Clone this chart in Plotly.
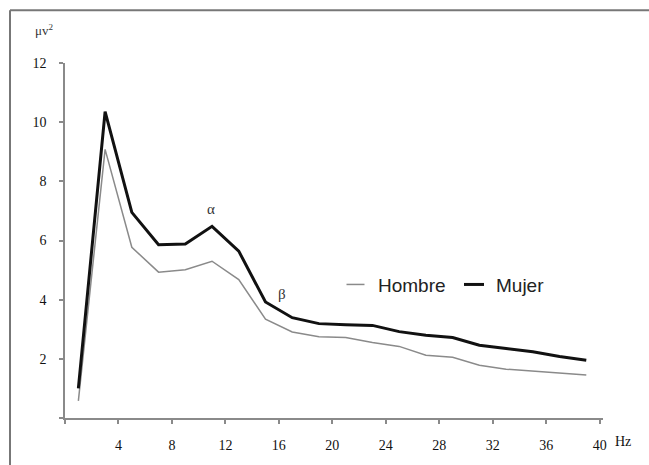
import plotly.graph_objects as go

freq = [1, 3, 5, 7, 9, 11, 13, 15, 17, 19, 21, 23, 25, 27, 29, 31, 33, 35, 37, 39]
hombre = [0.58, 9.08, 5.77, 4.93, 5.01, 5.30, 4.68, 3.34, 2.91, 2.75, 2.72, 2.55, 2.42, 2.12, 2.05, 1.78, 1.65, 1.58, 1.50, 1.45]
mujer = [1.00, 10.36, 6.95, 5.86, 5.88, 6.48, 5.64, 3.92, 3.39, 3.19, 3.15, 3.13, 2.92, 2.80, 2.72, 2.46, 2.35, 2.24, 2.08, 1.95]
x_ticks = [4, 8, 12, 16, 20, 24, 28, 32, 36, 40]
x_labels = ["4", "8", "12", "16", "20", "24", "28", "32", "36", "40"]
y_ticks = [2, 4, 6, 8, 10, 12]
y_labels = ["2", "4", "6", "8", "10", "12"]
series_names = ["Hombre", "Mujer"]
series_colors = ["#8a8a8a", "#111111"]
series_widths = [1.5, 3]

serif = "Liberation Serif, Times New Roman, serif"
sans = "Liberation Sans, Arial, sans-serif"

fig = go.Figure()
for name, vals, col, w in zip(series_names, [hombre, mujer], series_colors, series_widths):
    fig.add_trace(go.Scatter(x=freq, y=vals, mode="lines", name=name,
                             line=dict(color=col, width=w), showlegend=False))

axis_common = dict(showgrid=False, zeroline=False, showline=True, linecolor="#8a8a8a",
                   linewidth=1.5, ticks="outside", ticklen=4, tickcolor="#8a8a8a", tickwidth=1.5,
                   tickfont=dict(family=serif, size=14, color="#111"),
                   minor=dict(tickvals=[0], ticks="outside", ticklen=4, tickcolor="#8a8a8a",
                              tickwidth=1.5, showgrid=False))

fig.update_xaxes(range=[0, 40.25], tickvals=x_ticks, ticktext=x_labels, ticklabelstandoff=9, **axis_common)
fig.update_yaxes(range=[0, 12], tickvals=y_ticks, ticktext=y_labels, ticklabelstandoff=10, **axis_common)

# plot area geometry (for paper-coordinate legend / labels)
L, R, T, B, W, H = 65, 46, 63, 45, 649, 465
pw, ph = W - L - R, H - T - B
def px(xp):
    return (xp - L) / pw
def py(yp):
    return (H - B - yp) / ph

# manual legend (short line samples like the reference)
legend_items = [(346.5, 364.5, 375.5), (464, 484, 494)]
shapes = []
annotations = []
for (x0, x1, tx), name, col, w in zip(legend_items, series_names, series_colors, series_widths):
    shapes.append(dict(type="line", xref="paper", yref="paper", x0=px(x0), x1=px(x1),
                       y0=py(285.7), y1=py(285.7), line=dict(color=col, width=w)))
    annotations.append(dict(x=px(tx), y=py(287), xref="paper", yref="paper", text=name,
                            showarrow=False, xanchor="left", yanchor="middle",
                            font=dict(family=sans, size=19, color="#222")))

# outer frame (top and left edges)
shapes.append(dict(type="line", xref="paper", yref="paper", x0=px(10), x1=px(660),
                   y0=py(10), y1=py(10), line=dict(color="#777", width=2)))
shapes.append(dict(type="line", xref="paper", yref="paper", x0=px(10), x1=px(10),
                   y0=py(10), y1=py(470), line=dict(color="#777", width=2)))

annotations += [
    dict(x=10.9, y=7.06, xref="x", yref="y", text="α", showarrow=False,
         xanchor="center", yanchor="middle", font=dict(family=serif, size=15, color="#333")),
    dict(x=16.2, y=4.2, xref="x", yref="y", text="β", showarrow=False,
         xanchor="center", yanchor="middle", font=dict(family=serif, size=15, color="#333")),
    dict(x=px(33), y=py(30), xref="paper", yref="paper", text="μv<sup>2</sup>", showarrow=False,
         xanchor="left", yanchor="middle", font=dict(family=serif, size=13, color="#333")),
    dict(x=px(623), y=py(443.5), xref="paper", yref="paper", text="Hz", showarrow=False,
         xanchor="center", yanchor="middle", font=dict(family=serif, size=14, color="#111")),
]

fig.update_layout(
    width=W, height=H,
    margin=dict(l=L, r=R, t=T, b=B),
    plot_bgcolor="white", paper_bgcolor="white",
    showlegend=False,
    annotations=annotations,
    shapes=shapes,
)

fig.write_html("out.html")
